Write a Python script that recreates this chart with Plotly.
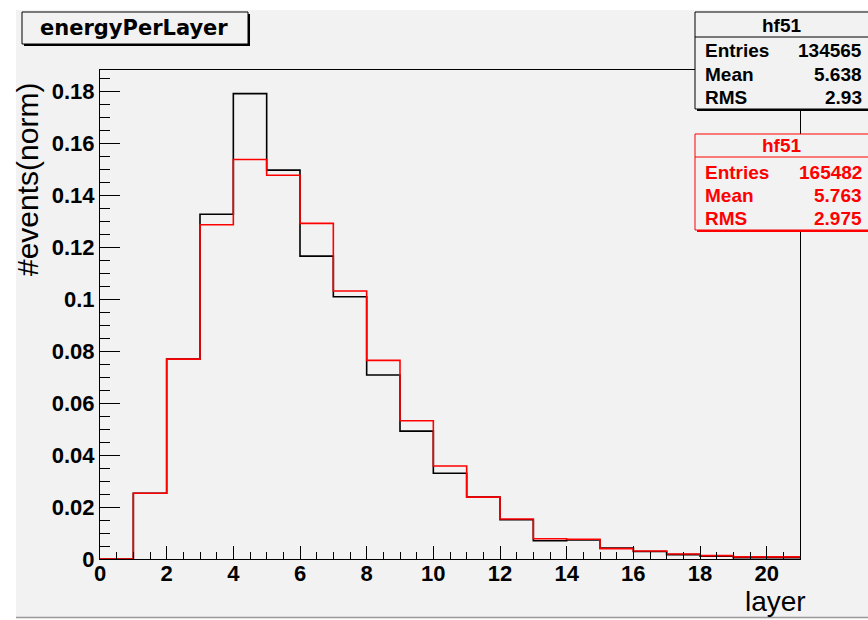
import plotly.graph_objects as go

# ---- data ----
bin_edges = list(range(0, 22))  # 0..21, width 1
black_vals = [0.0, 0.0253, 0.0769, 0.1326, 0.1790, 0.1496, 0.1165, 0.1009, 0.0708, 0.0492,
              0.0330, 0.0238, 0.0151, 0.0070, 0.0073, 0.0042, 0.0029, 0.0017, 0.0011, 0.0005, 0.0005]
red_vals = [0.0, 0.0253, 0.0769, 0.1286, 0.1537, 0.1476, 0.1291, 0.1031, 0.0764, 0.0532,
            0.0358, 0.0238, 0.0154, 0.0078, 0.0076, 0.0040, 0.0031, 0.0019, 0.0013, 0.0008, 0.0008]
x_range = [0, 21]
y_range = [0, 0.1881]
title_text = "energyPerLayer"
xtitle = "layer"
ytitle = "#events(norm)"
stats_black = {"name": "hf51", "Entries": "134565", "Mean": "5.638", "RMS": "2.93"}
stats_red = {"name": "hf51", "Entries": "165482", "Mean": "5.763", "RMS": "2.975"}

W, H = 868, 620
L, R, T, B = 100, 68, 70, 61
PW = W - L - R
PH = H - T - B


def px(p):
    return (p - L) / PW


def py(p):
    return (H - B - p) / PH


BG = "#f2f2f2"

fig = go.Figure()
fig.add_trace(go.Scatter(x=bin_edges, y=black_vals + [black_vals[-1]], mode="lines",
                         line=dict(shape="hv", color="black", width=1.6), hoverinfo="skip"))
fig.add_trace(go.Scatter(x=bin_edges, y=red_vals + [red_vals[-1]], mode="lines",
                         line=dict(shape="hv", color="#ff0000", width=1.6), hoverinfo="skip"))

shapes = []
annotations = []

# white page margins
shapes.append(dict(type="rect", xref="paper", yref="paper", x0=px(-5), x1=px(16), y0=py(-5), y1=py(625),
                   fillcolor="white", line=dict(width=0), layer="below"))
shapes.append(dict(type="rect", xref="paper", yref="paper", x0=px(-5), x1=px(875), y0=py(-5), y1=py(10),
                   fillcolor="white", line=dict(width=0), layer="below"))
shapes.append(dict(type="rect", xref="paper", yref="paper", x0=px(-5), x1=px(875), y0=py(617), y1=py(625),
                   fillcolor="white", line=dict(width=0), layer="below"))
shapes.append(dict(type="line", xref="paper", yref="paper", x0=px(16), x1=px(875), y0=py(617.5), y1=py(617.5),
                   line=dict(color="#999999", width=1.5), layer="below"))

# title box
shapes.append(dict(type="rect", xref="paper", yref="paper", x0=px(24), x1=px(250), y0=py(14), y1=py(46),
                   fillcolor="black", line=dict(width=0)))
shapes.append(dict(type="rect", xref="paper", yref="paper", x0=px(22), x1=px(248), y0=py(12), y1=py(44),
                   fillcolor=BG, line=dict(color="black", width=1)))
annotations.append(dict(text=title_text, xref="paper", yref="paper", x=px(134), y=py(28),
                        xanchor="center", yanchor="middle", showarrow=False,
                        font=dict(family="DejaVu Sans", size=21, color="black", weight="bold")))


def stat_box(st, color, top, sep, bottom, rows_y, head_y):
    shapes.append(dict(type="rect", xref="paper", yref="paper", x0=px(697), x1=px(875), y0=py(top + 2),
                       y1=py(bottom + 2), fillcolor=color, line=dict(width=0)))
    shapes.append(dict(type="rect", xref="paper", yref="paper", x0=px(695), x1=px(875), y0=py(top),
                       y1=py(bottom), fillcolor=BG, line=dict(color=color, width=1)))
    shapes.append(dict(type="line", xref="paper", yref="paper", x0=px(695), x1=px(875), y0=py(sep),
                       y1=py(sep), line=dict(color=color, width=1)))
    f = dict(family="Liberation Sans", size=19, color=color, weight="bold")
    annotations.append(dict(text=st["name"], xref="paper", yref="paper", x=px(782), y=py(head_y),
                            xanchor="center", yanchor="middle", showarrow=False, font=f))
    for key, yy in zip(["Entries", "Mean", "RMS"], rows_y):
        annotations.append(dict(text=key, xref="paper", yref="paper", x=px(703), y=py(yy),
                                xanchor="left", yanchor="middle", showarrow=False, font=f))
        annotations.append(dict(text=st[key], xref="paper", yref="paper", x=px(864), y=py(yy),
                                xanchor="right", yanchor="middle", showarrow=False, font=f))


stat_box(stats_black, "black", 12, 37, 109, [50, 74, 98], 25)
stat_box(stats_red, "#ff0000", 134, 157, 230, [172, 195, 218], 146)

# axis titles
annotations.append(dict(text=ytitle, xref="paper", yref="paper", x=px(27), y=py(180), textangle=-90,
                        xanchor="center", yanchor="middle", showarrow=False,
                        font=dict(family="Liberation Sans", size=30, color="black")))
annotations.append(dict(text=xtitle, xref="paper", yref="paper", x=px(808), y=py(601),
                        xanchor="right", yanchor="middle", showarrow=False,
                        font=dict(family="Liberation Sans", size=28, color="black")))

tickfont = dict(family="Liberation Sans", size=22, color="black", weight="bold")

fig.update_layout(
    width=W, height=H, margin=dict(l=L, r=R, t=T, b=B, pad=0),
    paper_bgcolor=BG, plot_bgcolor=BG, showlegend=False,
    shapes=shapes, annotations=annotations,
    xaxis=dict(range=x_range, showgrid=False, zeroline=False, showline=True, linecolor="black",
               linewidth=1, mirror=True, ticks="inside", ticklen=13, tickcolor="black", tickwidth=1,
               dtick=2, tick0=0, tickfont=tickfont, ticklabelstandoff=-5,
               minor=dict(dtick=0.5, tick0=0, ticks="inside", ticklen=7, tickcolor="black", showgrid=False)),
    yaxis=dict(range=y_range, showgrid=False, zeroline=False, showline=True, linecolor="black",
               linewidth=1, mirror=True, ticks="inside", ticklen=20, tickcolor="black", tickwidth=1,
               dtick=0.02, tick0=0, tickfont=tickfont,
               minor=dict(dtick=0.005, tick0=0, ticks="inside", ticklen=10, tickcolor="black", showgrid=False)),
)

fig.write_html("out.html")
